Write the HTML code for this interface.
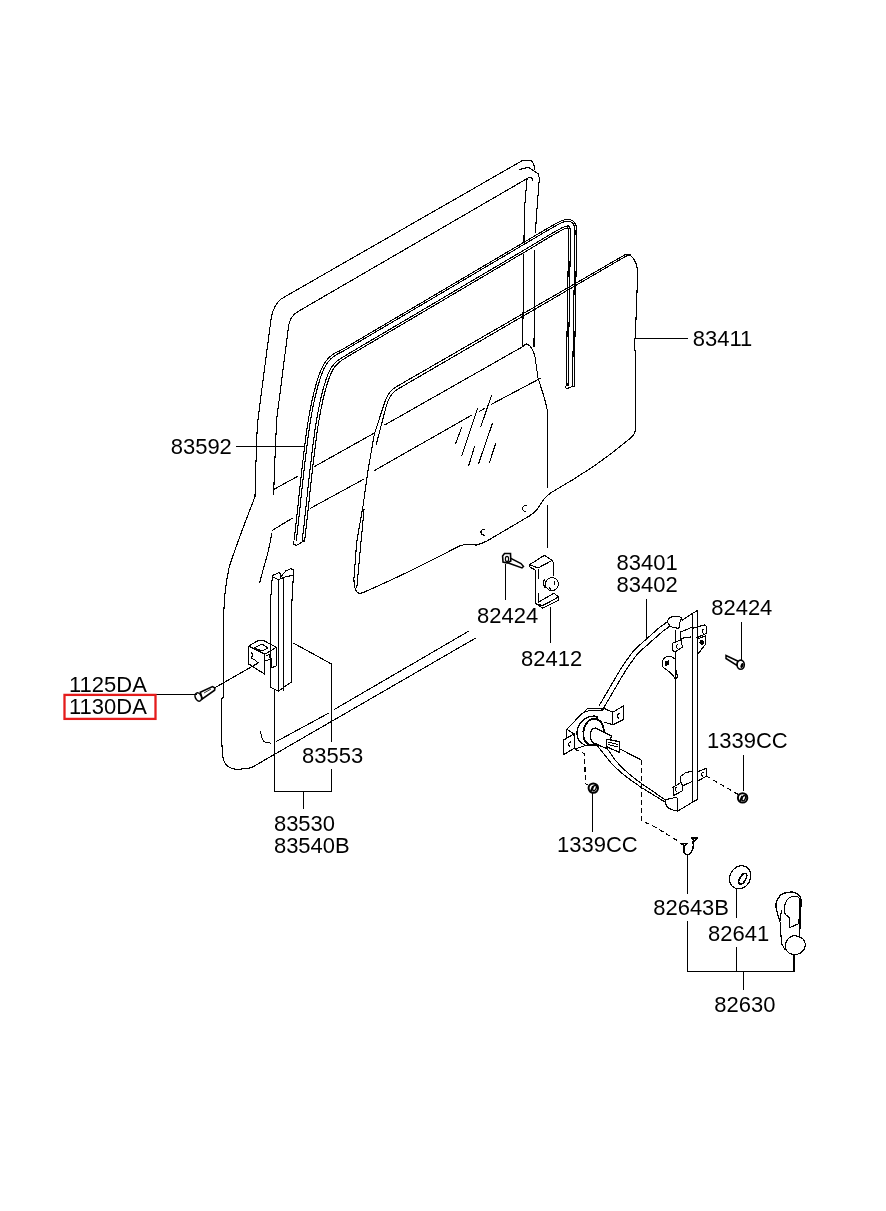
<!DOCTYPE html>
<html><head><meta charset="utf-8"><style>
html,body{margin:0;padding:0;background:#fff;}
svg{display:block;will-change:transform;}
text{font-family:"Liberation Sans",sans-serif;font-size:22px;fill:#000;}
.l{fill:none;stroke:#000;stroke-width:1.1;shape-rendering:crispEdges;}
</style></head><body>
<svg width="886" height="1211" viewBox="0 0 886 1211">
<rect width="886" height="1211" fill="#fff"/>
<g id="door" class="l">
<!-- outer frame outer line -->
<path d="M500,173.4 L523,160.2 L530.8,160.2 C533,162 534.5,166 534.5,169.6"/>
<path d="M500,173.4 L283.7,297.4 C277,301 272,310 271,319.5 L260,403.2 L257.3,425 L255.7,470 L255,496.6 C248,515 236,545 229,568 C224,590 223.4,612 223.4,630 L223.4,697.6 L221.8,698.6 L221.8,740 C222,747 222.3,752 222.6,755 C223,765 230,770 239.4,769.2 C244,769 248,768.5 251.6,767.6 L475.6,638.1"/>
<path d="M276,741.7 L329.3,712.8 M333.9,709.7 L469,631"/>
<path d="M260.7,731 C261,737 262,741.7 266,742.5 L271.4,743.2"/>
<!-- second top line + rear vertical -->
<path d="M519.3,169.6 L528.4,167.3 L538.6,174 L539.3,179 L536.4,216.5 L535.4,232.8 M534.8,250 L534,347"/>
<!-- inner frame line -->
<path d="M533.2,181.5 C532.5,178.5 531,177 529.1,177.4 L297.9,311.6 C293,314.5 289,320 288.4,327.4 L276.6,420 L274.4,471.8 L273.6,495.4"/>
<path d="M527,179 L524.4,210 L522.6,346.7"/>
<path d="M271.6,533 C270.5,548 263,568 259.6,583.4"/>
<!-- sill lines / quarter panel -->
<path d="M273.6,489.5 L297.7,476.3 M314,466.8 L375.3,432.5 M384.5,425.1 L522.6,346.7 C524,345 525.5,344 526.7,344 C530,345 533.5,350 535,357 L538,377.8 C541,388 545,398 547.5,411 L547.7,488 M547.5,505 L547.5,548.2"/>
<path d="M272.3,530.3 L292.7,518 M310,508.5 L364.1,479 M374.3,470.6 L471.8,415.1 M479.2,411.4 L484.6,408.5 M491.2,404.4 L541,378"/>
</g>
<defs><path id="ch" d="M299.6,541 C303,511 307,470 311,440 C314,415 320,385 327,370 C331,362 336,358 342,355 L530,244 C560,226 565,223 569,224 C572,225 572.5,228 572.5,234 L570,386.5"/></defs>
<g id="channel">
<use href="#ch" fill="none" stroke="#fff" stroke-width="10"/>
<g class="l">
<path d="M294.17,540.39 L294.53,537.25 L294.89,534.04 L295.25,530.76 L295.61,527.42 L295.98,524.03 L296.35,520.58 L296.73,517.08 L297.11,513.54 L297.49,509.97 L297.88,506.36 L298.27,502.73 L298.66,499.08 L299.05,495.42 L299.45,491.75 L299.85,488.07 L300.25,484.40 L300.65,480.73 L301.05,477.08 L301.46,473.45 L301.87,469.84 L302.28,466.25 L302.69,462.71 L303.10,459.20 L303.51,455.73 L303.93,452.32 L304.34,448.96 L304.76,445.67 L305.17,442.44 L305.58,439.31 L305.90,436.71 L306.25,434.04 L306.62,431.35 L307.00,428.63 L307.41,425.90 L307.84,423.16 L308.28,420.41 L308.74,417.67 L309.23,414.92 L309.72,412.18 L310.24,409.45 L310.77,406.74 L311.32,404.06 L311.88,401.40 L312.46,398.77 L313.05,396.17 L313.66,393.62 L314.28,391.11 L314.92,388.65 L315.57,386.25 L316.23,383.90 L316.91,381.62 L317.60,379.40 L318.30,377.25 L319.02,375.18 L319.76,373.18 L320.50,371.27 L321.27,369.44 L322.06,367.68 L322.59,366.64 L323.07,365.75 L323.56,364.89 L324.06,364.05 L324.57,363.24 L325.10,362.45 L325.64,361.68 L326.18,360.94 L326.74,360.22 L327.31,359.52 L327.89,358.85 L328.48,358.20 L329.07,357.57 L329.69,356.97 L330.32,356.40 L330.96,355.85 L331.60,355.32 L332.25,354.81 L332.93,354.36 L333.61,353.92 L334.30,353.50 L334.99,353.11 L335.68,352.73 L336.38,352.37 L337.08,352.02 L337.78,351.69 L338.48,351.37 L339.18,351.07 L339.65,350.88 L341.33,349.93 L343.08,348.95 L344.83,347.97 L346.57,346.99 L348.30,345.97 L350.02,344.95 L351.75,343.93 L353.47,342.91 L355.20,341.89 L356.92,340.88 L358.65,339.86 L360.37,338.84 L362.10,337.82 L363.82,336.80 L365.55,335.78 L367.27,334.77 L368.99,333.75 L370.72,332.73 L372.44,331.71 L374.17,330.69 L375.89,329.67 L377.62,328.66 L379.34,327.64 L381.07,326.62 L382.79,325.60 L384.52,324.58 L386.24,323.56 L387.97,322.55 L389.69,321.53 L391.42,320.51 L393.14,319.49 L394.87,318.47 L396.59,317.45 L398.32,316.44 L400.04,315.42 L401.77,314.40 L403.49,313.38 L405.21,312.36 L406.94,311.34 L408.66,310.33 L410.39,309.31 L412.11,308.29 L413.84,307.27 L415.56,306.25 L417.29,305.23 L419.01,304.22 L420.74,303.20 L422.46,302.18 L424.19,301.16 L425.91,300.14 L427.64,299.12 L429.36,298.11 L431.09,297.09 L432.81,296.07 L434.54,295.05 L436.26,294.03 L437.99,293.01 L439.71,292.00 L441.43,290.98 L443.16,289.96 L444.88,288.94 L446.61,287.92 L448.33,286.90 L450.06,285.89 L451.78,284.87 L453.51,283.85 L455.23,282.83 L456.96,281.81 L458.68,280.79 L460.41,279.78 L462.13,278.76 L463.86,277.74 L465.58,276.72 L467.31,275.70 L469.03,274.68 L470.76,273.67 L472.48,272.65 L474.21,271.63 L475.93,270.61 L477.66,269.59 L479.38,268.57 L481.10,267.55 L482.83,266.54 L484.55,265.52 L486.28,264.50 L488.00,263.48 L489.73,262.46 L491.45,261.44 L493.18,260.43 L494.90,259.41 L496.63,258.39 L498.35,257.37 L500.08,256.35 L501.80,255.33 L503.53,254.32 L505.25,253.30 L506.98,252.28 L508.70,251.26 L510.43,250.24 L512.15,249.22 L513.88,248.21 L515.60,247.19 L517.32,246.17 L519.05,245.15 L520.77,244.13 L522.50,243.12 L524.23,242.11 L525.96,241.10 L527.68,240.11 L530.69,238.31 L533.54,236.61 L536.22,235.02 L538.75,233.52 L541.12,232.12 L543.34,230.81 L545.43,229.59 L547.37,228.46 L549.20,227.41 L550.89,226.44 L552.48,225.55 L553.95,224.72 L555.32,223.96 L556.60,223.28 L557.79,222.65 L558.90,222.09 L559.94,221.59 L560.93,221.14 L561.86,220.75 L562.75,220.40 L563.61,220.11 L564.45,219.86 L565.28,219.66 L566.11,219.52 L566.93,219.43 L567.75,219.41 L568.55,219.45 L569.33,219.56 L570.18,219.74 L570.95,220.01 L571.50,220.25 L572.04,220.53 L572.56,220.86 L573.06,221.22 L573.54,221.62 L573.98,222.05 L574.38,222.52 L574.75,223.00 L575.07,223.50 L575.36,224.01 L575.61,224.52 L575.83,225.04 L576.02,225.56 L576.16,226.09 L576.28,226.62 L576.38,227.14 L576.46,227.67 L576.53,228.20 L576.58,228.74 L576.62,229.28 L576.65,229.83 L576.67,230.39 L576.69,230.96 L576.69,231.54 L576.69,232.13 L576.69,232.74 L576.68,233.36 L576.66,234.05 L576.63,236.07 L576.59,238.08 L576.56,240.09 L576.53,242.09 L576.49,244.10 L576.46,246.11 L576.43,248.11 L576.40,250.12 L576.36,252.13 L576.33,254.13 L576.30,256.14 L576.26,258.15 L576.23,260.15 L576.20,262.16 L576.17,264.17 L576.13,266.17 L576.10,268.18 L576.07,270.19 L576.03,272.19 L576.00,274.20 L575.97,276.21 L575.94,278.21 L575.90,280.22 L575.87,282.23 L575.84,284.23 L575.80,286.24 L575.77,288.25 L575.74,290.25 L575.71,292.26 L575.67,294.27 L575.64,296.27 L575.61,298.28 L575.57,300.29 L575.54,302.29 L575.51,304.30 L575.48,306.31 L575.44,308.31 L575.41,310.32 L575.38,312.32 L575.34,314.33 L575.31,316.34 L575.28,318.34 L575.24,320.35 L575.21,322.36 L575.18,324.36 L575.15,326.37 L575.11,328.38 L575.08,330.38 L575.05,332.39 L575.01,334.40 L574.98,336.40 L574.95,338.41 L574.92,340.42 L574.88,342.42 L574.85,344.43 L574.82,346.44 L574.78,348.44 L574.75,350.45 L574.72,352.46 L574.69,354.46 L574.65,356.47 L574.62,358.48 L574.59,360.48 L574.55,362.49 L574.52,364.50 L574.49,366.50 L574.46,368.51 L574.42,370.52 L574.39,372.52 L574.36,374.53 L574.32,376.54 L574.29,378.54 L574.26,380.55 L574.23,382.56 L574.19,384.56 L574.16,386.57"/>
<path d="M296.37,540.64 L296.72,537.50 L297.08,534.28 L297.44,531.01 L297.80,527.66 L298.17,524.26 L298.55,520.81 L298.92,517.31 L299.30,513.78 L299.68,510.20 L300.07,506.60 L300.46,502.97 L300.85,499.32 L301.24,495.66 L301.64,491.99 L302.04,488.31 L302.44,484.64 L302.84,480.98 L303.25,477.33 L303.65,473.69 L304.06,470.08 L304.47,466.51 L304.88,462.96 L305.29,459.46 L305.70,456.00 L306.12,452.59 L306.53,449.24 L306.94,445.95 L307.36,442.72 L307.77,439.59 L308.09,436.99 L308.44,434.33 L308.80,431.65 L309.19,428.95 L309.59,426.24 L310.01,423.51 L310.46,420.77 L310.92,418.04 L311.40,415.31 L311.89,412.58 L312.40,409.87 L312.93,407.18 L313.48,404.50 L314.04,401.86 L314.61,399.25 L315.20,396.67 L315.80,394.14 L316.42,391.65 L317.05,389.22 L317.69,386.83 L318.35,384.51 L319.02,382.26 L319.70,380.07 L320.39,377.95 L321.10,375.92 L321.82,373.96 L322.55,372.09 L323.29,370.31 L324.05,368.61 L324.54,367.67 L325.00,366.82 L325.46,366.00 L325.94,365.21 L326.43,364.43 L326.92,363.69 L327.43,362.97 L327.94,362.27 L328.47,361.59 L329.00,360.94 L329.54,360.31 L330.09,359.70 L330.65,359.11 L331.23,358.55 L331.81,358.01 L332.40,357.49 L333.00,356.99 L333.60,356.51 L334.23,356.06 L334.86,355.64 L335.50,355.23 L336.14,354.84 L336.78,354.46 L337.43,354.10 L338.09,353.75 L338.74,353.42 L339.41,353.09 L340.07,352.78 L340.60,352.54 L342.30,351.57 L344.04,350.57 L345.77,349.57 L347.51,348.58 L349.24,347.56 L350.96,346.54 L352.69,345.52 L354.41,344.50 L356.14,343.49 L357.86,342.47 L359.59,341.45 L361.31,340.43 L363.04,339.41 L364.76,338.39 L366.48,337.38 L368.21,336.36 L369.93,335.34 L371.66,334.32 L373.38,333.30 L375.11,332.28 L376.83,331.27 L378.56,330.25 L380.28,329.23 L382.01,328.21 L383.73,327.19 L385.46,326.17 L387.18,325.16 L388.91,324.14 L390.63,323.12 L392.36,322.10 L394.08,321.08 L395.81,320.06 L397.53,319.05 L399.26,318.03 L400.98,317.01 L402.70,315.99 L404.43,314.97 L406.15,313.95 L407.88,312.94 L409.60,311.92 L411.33,310.90 L413.05,309.88 L414.78,308.86 L416.50,307.84 L418.23,306.83 L419.95,305.81 L421.68,304.79 L423.40,303.77 L425.13,302.75 L426.85,301.73 L428.58,300.72 L430.30,299.70 L432.03,298.68 L433.75,297.66 L435.48,296.64 L437.20,295.62 L438.92,294.61 L440.65,293.59 L442.37,292.57 L444.10,291.55 L445.82,290.53 L447.55,289.51 L449.27,288.49 L451.00,287.48 L452.72,286.46 L454.45,285.44 L456.17,284.42 L457.90,283.40 L459.62,282.38 L461.35,281.37 L463.07,280.35 L464.80,279.33 L466.52,278.31 L468.25,277.29 L469.97,276.27 L471.70,275.26 L473.42,274.24 L475.15,273.22 L476.87,272.20 L478.59,271.18 L480.32,270.16 L482.04,269.15 L483.77,268.13 L485.49,267.11 L487.22,266.09 L488.94,265.07 L490.67,264.05 L492.39,263.04 L494.12,262.02 L495.84,261.00 L497.57,259.98 L499.29,258.96 L501.02,257.94 L502.74,256.93 L504.47,255.91 L506.19,254.89 L507.92,253.87 L509.64,252.85 L511.37,251.83 L513.09,250.82 L514.81,249.80 L516.54,248.78 L518.26,247.76 L519.99,246.74 L521.71,245.72 L523.44,244.71 L525.17,243.70 L526.90,242.69 L528.62,241.68 L531.63,239.88 L534.47,238.18 L537.16,236.58 L539.68,235.08 L542.04,233.67 L544.26,232.36 L546.34,231.14 L548.28,230.01 L550.10,228.96 L551.79,227.99 L553.36,227.10 L554.82,226.28 L556.17,225.53 L557.43,224.85 L558.60,224.24 L559.69,223.69 L560.70,223.21 L561.64,222.78 L562.53,222.40 L563.36,222.08 L564.15,221.81 L564.91,221.58 L565.64,221.41 L566.35,221.29 L567.05,221.21 L567.73,221.20 L568.39,221.23 L569.03,221.31 L569.70,221.46 L570.29,221.67 L570.73,221.86 L571.16,222.09 L571.57,222.34 L571.96,222.63 L572.33,222.94 L572.68,223.28 L573.00,223.64 L573.29,224.02 L573.55,224.42 L573.78,224.83 L573.98,225.26 L574.16,225.69 L574.32,226.13 L574.45,226.58 L574.56,227.03 L574.65,227.50 L574.73,227.97 L574.80,228.45 L574.85,228.95 L574.89,229.45 L574.93,229.97 L574.96,230.50 L574.97,231.04 L574.99,231.60 L574.99,232.17 L574.99,232.77 L574.99,233.37 L574.98,234.03 L574.95,236.05 L574.91,238.05 L574.88,240.06 L574.85,242.07 L574.82,244.07 L574.78,246.08 L574.75,248.09 L574.72,250.09 L574.68,252.10 L574.65,254.11 L574.62,256.11 L574.58,258.12 L574.55,260.13 L574.52,262.13 L574.49,264.14 L574.45,266.15 L574.42,268.15 L574.39,270.16 L574.35,272.17 L574.32,274.17 L574.29,276.18 L574.26,278.19 L574.22,280.19 L574.19,282.20 L574.16,284.21 L574.12,286.21 L574.09,288.22 L574.06,290.22 L574.03,292.23 L573.99,294.24 L573.96,296.24 L573.93,298.25 L573.89,300.26 L573.86,302.26 L573.83,304.27 L573.80,306.28 L573.76,308.28 L573.73,310.29 L573.70,312.30 L573.66,314.30 L573.63,316.31 L573.60,318.32 L573.57,320.32 L573.53,322.33 L573.50,324.34 L573.47,326.34 L573.43,328.35 L573.40,330.36 L573.37,332.36 L573.33,334.37 L573.30,336.38 L573.27,338.38 L573.24,340.39 L573.20,342.40 L573.17,344.40 L573.14,346.41 L573.10,348.42 L573.07,350.42 L573.04,352.43 L573.01,354.44 L572.97,356.44 L572.94,358.45 L572.91,360.46 L572.87,362.46 L572.84,364.47 L572.81,366.47 L572.78,368.48 L572.74,370.49 L572.71,372.49 L572.68,374.50 L572.64,376.51 L572.61,378.51 L572.58,380.52 L572.55,382.53 L572.51,384.53 L572.48,386.54"/>
<path d="M302.21,541.29 L302.56,538.15 L302.92,534.93 L303.28,531.65 L303.65,528.30 L304.02,524.90 L304.39,521.44 L304.77,517.94 L305.15,514.40 L305.53,510.83 L305.92,507.22 L306.31,503.59 L306.70,499.95 L307.09,496.29 L307.49,492.62 L307.88,488.95 L308.28,485.28 L308.69,481.62 L309.09,477.98 L309.50,474.35 L309.90,470.75 L310.31,467.18 L310.72,463.64 L311.13,460.15 L311.54,456.70 L311.95,453.30 L312.36,449.96 L312.78,446.69 L313.19,443.48 L313.60,440.33 L313.93,437.73 L314.26,435.11 L314.62,432.47 L315.00,429.80 L315.40,427.12 L315.82,424.43 L316.26,421.73 L316.71,419.03 L317.18,416.34 L317.67,413.65 L318.18,410.98 L318.70,408.33 L319.23,405.70 L319.78,403.10 L320.35,400.54 L320.93,398.01 L321.52,395.53 L322.12,393.10 L322.74,390.72 L323.36,388.40 L324.00,386.15 L324.65,383.97 L325.30,381.86 L325.97,379.83 L326.64,377.89 L327.32,376.04 L328.00,374.29 L328.69,372.65 L329.38,371.12 L329.74,370.41 L330.14,369.67 L330.54,368.97 L330.95,368.28 L331.36,367.63 L331.78,367.00 L332.20,366.39 L332.63,365.81 L333.07,365.25 L333.51,364.71 L333.95,364.20 L334.40,363.70 L334.86,363.22 L335.32,362.75 L335.78,362.29 L336.25,361.86 L336.73,361.44 L337.22,361.03 L337.70,360.62 L338.19,360.22 L338.69,359.83 L339.20,359.45 L339.71,359.08 L340.24,358.72 L340.77,358.37 L341.32,358.02 L341.88,357.69 L342.44,357.36 L343.13,356.98 L344.87,355.93 L346.59,354.89 L348.30,353.86 L350.02,352.82 L351.74,351.80 L353.47,350.78 L355.19,349.77 L356.92,348.75 L358.64,347.73 L360.37,346.71 L362.09,345.69 L363.82,344.67 L365.54,343.66 L367.27,342.64 L368.99,341.62 L370.71,340.60 L372.44,339.58 L374.16,338.56 L375.89,337.55 L377.61,336.53 L379.34,335.51 L381.06,334.49 L382.79,333.47 L384.51,332.45 L386.24,331.44 L387.96,330.42 L389.69,329.40 L391.41,328.38 L393.14,327.36 L394.86,326.34 L396.59,325.33 L398.31,324.31 L400.04,323.29 L401.76,322.27 L403.49,321.25 L405.21,320.23 L406.94,319.22 L408.66,318.20 L410.38,317.18 L412.11,316.16 L413.83,315.14 L415.56,314.12 L417.28,313.11 L419.01,312.09 L420.73,311.07 L422.46,310.05 L424.18,309.03 L425.91,308.01 L427.63,307.00 L429.36,305.98 L431.08,304.96 L432.81,303.94 L434.53,302.92 L436.26,301.90 L437.98,300.89 L439.71,299.87 L441.43,298.85 L443.16,297.83 L444.88,296.81 L446.60,295.79 L448.33,294.78 L450.05,293.76 L451.78,292.74 L453.50,291.72 L455.23,290.70 L456.95,289.68 L458.68,288.67 L460.40,287.65 L462.13,286.63 L463.85,285.61 L465.58,284.59 L467.30,283.57 L469.03,282.55 L470.75,281.54 L472.48,280.52 L474.20,279.50 L475.93,278.48 L477.65,277.46 L479.38,276.44 L481.10,275.43 L482.82,274.41 L484.55,273.39 L486.27,272.37 L488.00,271.35 L489.72,270.33 L491.45,269.32 L493.17,268.30 L494.90,267.28 L496.62,266.26 L498.35,265.24 L500.07,264.22 L501.80,263.21 L503.52,262.19 L505.25,261.17 L506.97,260.15 L508.70,259.13 L510.42,258.11 L512.15,257.10 L513.87,256.08 L515.60,255.06 L517.32,254.04 L519.05,253.02 L520.77,252.00 L522.49,250.99 L524.22,249.97 L525.94,248.95 L527.66,247.92 L529.39,246.90 L531.12,245.87 L534.13,244.06 L536.97,242.35 L539.65,240.74 L542.16,239.23 L544.51,237.82 L546.72,236.51 L548.78,235.28 L550.71,234.14 L552.50,233.09 L554.16,232.13 L555.70,231.24 L557.13,230.44 L558.45,229.71 L559.67,229.06 L560.78,228.48 L561.80,227.96 L562.72,227.52 L563.56,227.13 L564.32,226.81 L565.00,226.55 L565.61,226.34 L566.14,226.18 L566.61,226.07 L567.01,226.00 L567.37,225.96 L567.68,225.96 L567.96,225.97 L568.22,226.01 L568.43,226.05 L568.51,226.08 L568.67,226.15 L568.80,226.22 L568.92,226.30 L569.03,226.37 L569.13,226.46 L569.22,226.55 L569.31,226.65 L569.39,226.76 L569.48,226.89 L569.56,227.04 L569.64,227.21 L569.73,227.41 L569.81,227.63 L569.89,227.87 L569.97,228.15 L570.04,228.44 L570.11,228.77 L570.18,229.12 L570.24,229.50 L570.29,229.90 L570.33,230.33 L570.37,230.78 L570.41,231.25 L570.43,231.76 L570.46,232.28 L570.48,232.83 L570.49,233.40 L570.50,233.98 L570.47,235.97 L570.43,237.98 L570.40,239.99 L570.37,241.99 L570.34,244.00 L570.30,246.01 L570.27,248.01 L570.24,250.02 L570.20,252.03 L570.17,254.03 L570.14,256.04 L570.11,258.05 L570.07,260.05 L570.04,262.06 L570.01,264.07 L569.97,266.07 L569.94,268.08 L569.91,270.09 L569.88,272.09 L569.84,274.10 L569.81,276.11 L569.78,278.11 L569.74,280.12 L569.71,282.13 L569.68,284.13 L569.65,286.14 L569.61,288.14 L569.58,290.15 L569.55,292.16 L569.51,294.16 L569.48,296.17 L569.45,298.18 L569.41,300.18 L569.38,302.19 L569.35,304.20 L569.32,306.20 L569.28,308.21 L569.25,310.22 L569.22,312.22 L569.18,314.23 L569.15,316.24 L569.12,318.24 L569.09,320.25 L569.05,322.26 L569.02,324.26 L568.99,326.27 L568.95,328.28 L568.92,330.28 L568.89,332.29 L568.86,334.30 L568.82,336.30 L568.79,338.31 L568.76,340.32 L568.72,342.32 L568.69,344.33 L568.66,346.34 L568.63,348.34 L568.59,350.35 L568.56,352.36 L568.53,354.36 L568.49,356.37 L568.46,358.38 L568.43,360.38 L568.40,362.39 L568.36,364.39 L568.33,366.40 L568.30,368.41 L568.26,370.41 L568.23,372.42 L568.20,374.43 L568.16,376.43 L568.13,378.44 L568.10,380.45 L568.07,382.45 L568.03,384.46 L568.00,386.47"/>
<path d="M304.61,541.56 L304.96,538.42 L305.32,535.20 L305.68,531.91 L306.05,528.56 L306.42,525.16 L306.79,521.70 L307.17,518.20 L307.55,514.66 L307.93,511.08 L308.32,507.48 L308.71,503.85 L309.10,500.21 L309.49,496.55 L309.89,492.88 L310.28,489.21 L310.68,485.54 L311.09,481.89 L311.49,478.24 L311.90,474.62 L312.30,471.02 L312.71,467.45 L313.12,463.92 L313.53,460.43 L313.94,456.99 L314.35,453.60 L314.76,450.26 L315.17,446.99 L315.58,443.79 L316.00,440.64 L316.32,438.03 L316.66,435.43 L317.02,432.80 L317.39,430.15 L317.79,427.48 L318.21,424.81 L318.64,422.12 L319.09,419.44 L319.56,416.76 L320.05,414.09 L320.55,411.44 L321.07,408.80 L321.60,406.19 L322.14,403.61 L322.70,401.06 L323.28,398.56 L323.86,396.10 L324.46,393.69 L325.07,391.34 L325.69,389.04 L326.32,386.82 L326.96,384.67 L327.60,382.59 L328.25,380.60 L328.91,378.70 L329.58,376.90 L330.24,375.20 L330.90,373.61 L331.56,372.15 L331.88,371.53 L332.25,370.84 L332.63,370.18 L333.01,369.55 L333.39,368.94 L333.78,368.36 L334.17,367.80 L334.56,367.27 L334.96,366.76 L335.36,366.26 L335.76,365.79 L336.17,365.34 L336.59,364.90 L337.00,364.47 L337.41,364.05 L337.84,363.65 L338.26,363.26 L338.70,362.88 L339.12,362.48 L339.56,362.10 L340.00,361.71 L340.45,361.34 L340.92,360.98 L341.39,360.62 L341.88,360.26 L342.38,359.92 L342.89,359.57 L343.41,359.23 L344.16,358.80 L345.93,357.72 L347.64,356.67 L349.34,355.62 L351.05,354.56 L352.77,353.55 L354.50,352.53 L356.22,351.51 L357.95,350.49 L359.67,349.47 L361.40,348.45 L363.12,347.44 L364.84,346.42 L366.57,345.40 L368.29,344.38 L370.02,343.36 L371.74,342.34 L373.47,341.33 L375.19,340.31 L376.92,339.29 L378.64,338.27 L380.37,337.25 L382.09,336.23 L383.82,335.22 L385.54,334.20 L387.27,333.18 L388.99,332.16 L390.72,331.14 L392.44,330.12 L394.17,329.11 L395.89,328.09 L397.62,327.07 L399.34,326.05 L401.07,325.03 L402.79,324.01 L404.51,323.00 L406.24,321.98 L407.96,320.96 L409.69,319.94 L411.41,318.92 L413.14,317.90 L414.86,316.89 L416.59,315.87 L418.31,314.85 L420.04,313.83 L421.76,312.81 L423.49,311.79 L425.21,310.77 L426.94,309.76 L428.66,308.74 L430.39,307.72 L432.11,306.70 L433.84,305.68 L435.56,304.66 L437.29,303.65 L439.01,302.63 L440.73,301.61 L442.46,300.59 L444.18,299.57 L445.91,298.55 L447.63,297.54 L449.36,296.52 L451.08,295.50 L452.81,294.48 L454.53,293.46 L456.26,292.44 L457.98,291.43 L459.71,290.41 L461.43,289.39 L463.16,288.37 L464.88,287.35 L466.61,286.33 L468.33,285.32 L470.06,284.30 L471.78,283.28 L473.51,282.26 L475.23,281.24 L476.95,280.22 L478.68,279.21 L480.40,278.19 L482.13,277.17 L483.85,276.15 L485.58,275.13 L487.30,274.11 L489.03,273.10 L490.75,272.08 L492.48,271.06 L494.20,270.04 L495.93,269.02 L497.65,268.00 L499.38,266.99 L501.10,265.97 L502.83,264.95 L504.55,263.93 L506.28,262.91 L508.00,261.89 L509.73,260.88 L511.45,259.86 L513.18,258.84 L514.90,257.82 L516.62,256.80 L518.35,255.78 L520.07,254.77 L521.80,253.75 L523.52,252.73 L525.25,251.71 L526.97,250.68 L528.69,249.66 L530.41,248.63 L532.14,247.59 L535.16,245.77 L538.00,244.06 L540.67,242.45 L543.18,240.94 L545.53,239.53 L547.73,238.21 L549.78,236.98 L551.70,235.84 L553.48,234.79 L555.14,233.83 L556.67,232.94 L558.08,232.15 L559.39,231.43 L560.58,230.78 L561.67,230.22 L562.66,229.72 L563.55,229.29 L564.35,228.92 L565.06,228.62 L565.67,228.38 L566.20,228.20 L566.65,228.07 L567.00,227.99 L567.29,227.94 L567.50,227.91 L567.65,227.91 L567.78,227.92 L567.89,227.93 L567.91,227.93 L567.78,227.90 L567.82,227.91 L567.84,227.92 L567.84,227.92 L567.82,227.91 L567.81,227.90 L567.80,227.89 L567.79,227.88 L567.79,227.88 L567.80,227.90 L567.83,227.95 L567.86,228.02 L567.90,228.12 L567.95,228.25 L568.02,228.41 L568.08,228.60 L568.15,228.83 L568.22,229.10 L568.28,229.39 L568.34,229.72 L568.39,230.08 L568.44,230.47 L568.49,230.89 L568.53,231.34 L568.56,231.82 L568.59,232.32 L568.62,232.86 L568.64,233.42 L568.66,233.95 L568.63,235.94 L568.59,237.95 L568.56,239.96 L568.53,241.96 L568.50,243.97 L568.46,245.98 L568.43,247.98 L568.40,249.99 L568.36,252.00 L568.33,254.00 L568.30,256.01 L568.27,258.02 L568.23,260.02 L568.20,262.03 L568.17,264.04 L568.13,266.04 L568.10,268.05 L568.07,270.06 L568.04,272.06 L568.00,274.07 L567.97,276.08 L567.94,278.08 L567.90,280.09 L567.87,282.09 L567.84,284.10 L567.81,286.11 L567.77,288.11 L567.74,290.12 L567.71,292.13 L567.67,294.13 L567.64,296.14 L567.61,298.15 L567.57,300.15 L567.54,302.16 L567.51,304.17 L567.48,306.17 L567.44,308.18 L567.41,310.19 L567.38,312.19 L567.34,314.20 L567.31,316.21 L567.28,318.21 L567.25,320.22 L567.21,322.23 L567.18,324.23 L567.15,326.24 L567.11,328.25 L567.08,330.25 L567.05,332.26 L567.02,334.27 L566.98,336.27 L566.95,338.28 L566.92,340.29 L566.88,342.29 L566.85,344.30 L566.82,346.31 L566.79,348.31 L566.75,350.32 L566.72,352.33 L566.69,354.33 L566.65,356.34 L566.62,358.34 L566.59,360.35 L566.56,362.36 L566.52,364.36 L566.49,366.37 L566.46,368.38 L566.42,370.38 L566.39,372.39 L566.36,374.40 L566.32,376.40 L566.29,378.41 L566.26,380.42 L566.23,382.42 L566.19,384.43 L566.16,386.44"/>
</g>
</g>
<g class="l">
<path d="M293.5,541 L293.2,544.4 L296.8,545.3 L301.3,542.6 L305.5,539.5"/>
<path d="M565.3,386 L566.4,388.7 L574.5,385.8 L574.8,383"/>
</g>
<g id="glass" class="l">
<path d="M626,254.2 L395.7,387.1 C391,390 388,393 384.5,402.8 L374.3,434.4 L367.8,471.5 L363.2,505 L356.7,542 L353.9,579.2 C354,588 355.5,592 358.6,593.1 C361,593.5 362.5,593 364.1,592.2 C385,583 420,567 458.5,546.4 C462,545 466,544 469.9,544.2 C472,544.5 474,545 476.1,545.1 C479,544.5 483,543 487.3,540.8 L529.5,515.9 C533,513.5 535,512 537,509.7 C541,504 543,499 546.9,496.1 C549,494 551,492.5 555,490.3 C575,479 600,464 630.2,438.4 C633,436 635.3,433 635.3,429.8 L635.3,351 L634.4,350.6 L634.4,340.7 L635.3,337.7 L637.4,281.3 L637.4,270 C637,262 632,254 626,254.2"/>
<path d="M631,254.5 L627,255.6 L396.6,389.8 C392,392.5 389,397 386.4,405.6 L376.2,444.6"/>
<path d="M364.1,508.6 L356.7,588.5"/>
<path d="M527,506 A3,3 0 1 0 526,511.5"/>
<path d="M485.5,529.5 A3,3 0 1 0 484.5,535"/>
<path d="M491.6,395.3 L480.5,427.5 M477.6,408.5 L461.5,456.4 M461.6,427.5 L455.3,444.4 M474.7,446 L468.5,466.3 M492.4,423.4 L478.4,464.2 M495.7,443.2 L489.5,462.6"/>
</g>
<g id="rail" class="l">
<path d="M272.4,575.6 L279.9,572.1 L280.5,577.3 L285.7,571 L290.9,568.7 L293.2,569.8 L293.4,575 L291.4,611 L291.4,682 L278.2,691.2 L270.6,687.2 L270.6,600 Z"/>
<path d="M272.4,577 L278.7,579.7 L283.9,577.3 L293.4,575 M278.7,579.7 L278.2,691.2 M283.9,577.3 L283.4,690.6"/>
<!-- clip -->
<path d="M248.7,646.1 L257.3,641 L263.1,640.3 L276.4,647.3 L276.4,665.8 L271,668 L271,659 L264.9,661 M248.7,646.1 L248.7,664 L264.3,673.9 L264.9,654.2 L248.7,646.1 M264.9,654.2 L276.4,647.3"/>
<path d="M254,648 L262,644 L268,648 L262,651 Z M251,652 L253,655 L251,658 L255,660 L258,663 M266,656 L270,654 L270,658"/>
<path d="M212.6,689 L259,662.5"/>
</g>
<g id="bolt1">
<path d="M200.3,692.3 L212.5,686.6 L214.9,688 L214.6,690.2 L202.3,698.9 Z" fill="#fff" stroke="#000" stroke-width="1.6"/>
<ellipse cx="198.3" cy="697" rx="3" ry="4.3" transform="rotate(-25 198.3 697)" fill="#fff" stroke="#000" stroke-width="1.6"/>
<path d="M204,693 L211,689" stroke="#000" stroke-width="0.8"/>
</g>
<g id="screw82424c">
<path d="M508,557 L521,563.5 L523.5,566.5 L522,568 L507,562.5 Z" fill="#fff" stroke="#000" stroke-width="1.5"/>
<path d="M502.6,556 L504.5,553.5 L510.5,553.5 L510.8,561 L507,563 L503,562 Z" fill="#fff" stroke="#000" stroke-width="1.6"/>
<ellipse cx="507" cy="559" rx="1.6" ry="2.6" fill="none" stroke="#000" stroke-width="1.2"/>
</g>
<g id="clip82412" class="l" stroke-width="1.3">
<path d="M529.4,564.8 L544.4,555.3 L552.3,560.4 L538.1,567.9 Z M529.4,564.8 L529.4,566.7 L535.7,570.3 L535.7,603.5 L542.8,608.2 L558.6,600.3 L558.6,596.8 L553.9,593.2 L538.8,601.9 L538.8,593.2 M538.5,579.4 L538.5,569 M552.3,560.4 L553.5,563.6 L553.1,575.8 M536,604 L542.8,605.5 L558.6,597"/>
<circle cx="551.9" cy="584.1" r="6.5" fill="#fff"/>
<path d="M545,579 C543,581 543,585 545.5,588.5"/>
<path d="M554,581 L555,585 M549,587 L551,590"/>
</g>
<defs>
<path id="cab1" d="M668.5,624 L660.4,630 L637.4,650.4 C633,655 627,664 620.7,673.8 L601.3,707"/>

</defs>
<g id="mech" fill="none" stroke-linejoin="round">
<use href="#cab1" stroke="#fff" stroke-width="5"/>
<g class="l"><path d="M669.99,626.01 L668.37,627.21 L666.75,628.41 L665.13,629.61 L663.51,630.81 L661.98,631.94 L660.53,633.23 L658.99,634.59 L657.46,635.95 L655.93,637.31 L654.39,638.67 L652.86,640.03 L651.33,641.39 L649.79,642.75 L648.26,644.11 L646.73,645.47 L645.19,646.83 L643.66,648.19 L642.13,649.55 L640.59,650.91 L639.10,652.23 L638.78,652.58 L638.34,653.07 L637.88,653.60 L637.41,654.15 L636.92,654.74 L636.43,655.35 L635.92,655.99 L635.40,656.66 L634.88,657.35 L634.34,658.07 L633.79,658.81 L633.24,659.58 L632.67,660.37 L632.10,661.17 L631.52,662.00 L630.93,662.85 L630.34,663.71 L629.74,664.59 L629.13,665.49 L628.52,666.40 L627.90,667.33 L627.28,668.27 L626.65,669.22 L626.02,670.19 L625.38,671.16 L624.74,672.15 L624.10,673.14 L623.45,674.14 L622.84,675.10 L621.84,676.81 L620.82,678.56 L619.80,680.30 L618.77,682.05 L617.75,683.80 L616.73,685.55 L615.71,687.29 L614.69,689.04 L613.67,690.79 L612.65,692.53 L611.63,694.28 L610.61,696.03 L609.58,697.78 L608.56,699.52 L607.54,701.27 L606.52,703.02 L605.50,704.77 L604.48,706.51 L603.46,708.26"/><path d="M667.01,621.99 L665.39,623.19 L663.77,624.39 L662.15,625.59 L660.53,626.79 L658.82,628.06 L657.21,629.49 L655.67,630.85 L654.14,632.21 L652.61,633.57 L651.07,634.93 L649.54,636.29 L648.01,637.65 L646.47,639.01 L644.94,640.37 L643.41,641.73 L641.87,643.09 L640.34,644.45 L638.81,645.81 L637.27,647.17 L635.70,648.57 L635.10,649.20 L634.60,649.75 L634.09,650.33 L633.58,650.94 L633.05,651.57 L632.52,652.23 L631.98,652.91 L631.44,653.61 L630.88,654.34 L630.32,655.09 L629.76,655.86 L629.18,656.65 L628.60,657.46 L628.01,658.29 L627.42,659.14 L626.82,660.01 L626.21,660.89 L625.60,661.79 L624.98,662.70 L624.36,663.63 L623.74,664.56 L623.11,665.52 L622.47,666.48 L621.83,667.45 L621.19,668.44 L620.55,669.43 L619.90,670.43 L619.25,671.43 L618.56,672.50 L617.52,674.29 L616.50,676.03 L615.48,677.78 L614.46,679.53 L613.44,681.28 L612.42,683.02 L611.39,684.77 L610.37,686.52 L609.35,688.27 L608.33,690.01 L607.31,691.76 L606.29,693.51 L605.27,695.25 L604.25,697.00 L603.23,698.75 L602.20,700.50 L601.18,702.24 L600.16,703.99 L599.14,705.74"/></g>

</g>
<g id="mech2" class="l">
<!-- rail -->
<path d="M675.7,630.2 L675.7,786 M692.4,613.5 L692.4,802.3 M697.3,610.4 L697.3,799.6 M682,620.3 L692.4,613.5 L697.3,610.4 M677.7,798.2 L677.7,811.1 L692.4,802.3 L697.3,799.6"/>
<!-- pulley top -->
<path d="M667.5,620.8 C669,617.5 672,616.3 675.2,616.3 C679,616.3 681.5,617 681.5,618.5 L679.7,622.6 C679.5,625 679.5,627 678.8,628 C675.5,628.3 672.5,628 670,626 C668.5,624.5 667.5,622.5 667.5,620.8 Z" fill="#fff"/>
<!-- brackets upper -->
<path d="M672.5,643.3 L681,639.7 L682.4,647 L675.2,651.9 L672.5,650.6 Z" fill="#fff"/>
<path d="M678.5,644.5 A2,2 0 1 0 678,648.5"/>
<path d="M680.6,632 L692.4,627.1 M681,638.8 C684,637.5 687,637 690.6,637 M680.6,632 L681,639.7"/>
<path d="M692.4,628.4 L705,624.8 L706.4,626.2 L706.4,633.4 L696.4,637.9 L697.3,637.5"/>
<path d="M704.5,629.5 A2,2 0 1 0 704,633.5"/>
<path d="M697.8,638.8 L705,636.1 L705.5,644.2 L697.8,654.2"/>
<circle cx="701.8" cy="642.4" r="1.8" fill="#000"/>
<path d="M674.3,658.7 C672,656 668,655.5 665,657.5 C662,660 661.5,664 663,667 C666,670 671,672 673.5,676 L675.5,679 L677.5,677 L676,670"/>
<path d="M665,662 L668,661 L668,664.5 L665.5,665.5 Z" fill="#000"/>
<!-- brackets lower -->
<path d="M673,787.4 L681.8,782 L682.5,790.8 L673.7,795.5 Z" fill="#fff"/>
<path d="M677.5,787.5 A2,2 0 1 0 677,791.5"/>
<path d="M680.4,783 L680.4,776.6 L685.8,772.5 L692.4,771.2 M682,786 L692.4,781.5"/>
<path d="M697.4,771.8 L706.2,768.4 L706.8,775.9 L697.4,781.3"/>
<path d="M703.8,772.5 A2,2 0 1 0 703.3,776.5"/>
<!-- pulley block bottom -->
<path d="M665.5,799.6 L675,797.6 L677.7,798.2 L677.7,811.1 L672.3,809.8 C669,808.5 667,807.5 666.2,805.5 L665.5,801 Z" fill="#fff"/>
<!-- motor housing -->
<path d="M566.7,729.3 L587.5,708.5 L602,708.1 L604.2,709.4 M574.9,721.2 C578,716 582,712 590,710.5 L603,710"/>
<path d="M566.7,729.3 L574,733.8 L574.4,748.3 L563.6,754.6 L563.6,740.1 L574,733.8 M566.7,729.3 L566.7,737.5"/>
<path d="M571,742 A2.2,2.2 0 1 0 570.5,746.5"/>
<path d="M604.2,708.5 L612.8,712.2 L623.6,705.8 L623.6,719.4 L612.8,724.8 L604.2,722.1 M612.8,712.2 L612.8,724.8"/>
<path d="M619.8,713.8 A2.2,2.2 0 1 0 619.3,718.3"/>
<path d="M603.9,743.9 L615.1,760 C622,768 632,777 641.2,783.3 L664.9,799.6 M595.4,743.3 L610,761.7 C618,771 630,780 641.2,787.4 L665.5,802.3"/>
<path d="M597,716.5 C588,714.5 578,721 577,732 C576.5,738 580,743 585.5,745.5 L596,745 Z" fill="#fff" stroke-width="1.3"/>
<path d="M603,726 C601,720 596,718 591,719.5 C585,722.5 582.5,730 583.5,737 C584.5,741 586.5,743.5 589.5,744.8 L597,744.5 L604,731 Z" fill="#fff" stroke-width="1.8"/>
<path d="M595.4,728 C592,728 590.3,731 590.3,735.5 C590.3,740 592.5,743.3 594.8,743.3 L606.1,748.4 L611.8,736 L595.4,728 Z" fill="#fff" stroke-width="1.3"/>
<path d="M606.7,739.3 L619.7,741.6 L619.1,752.3 L606.7,746.7 Z" fill="#fff" stroke-width="1.3"/>
<path d="M608,742 L618,744.5 M608,744.5 L618,747"/>
<path d="M620,749 L640.5,759.6"/>
<path d="M587,745 L578,748 L574.9,749.2"/>
</g>
<g id="dashes" class="l" stroke-dasharray="5,3">
<path d="M574.9,749.2 L584.8,753.7 L585.2,783.7 L588.3,785"/>
<path d="M641.4,760.3 L641.4,820.6 L654.7,826.7 L678.7,841.5"/>
<path d="M706.2,775.9 L738.2,794.5"/>
</g>
<g id="nuts" fill="#fff" stroke="#000">
<circle cx="593.3" cy="788.1" r="4.7" stroke-width="2"/>
<ellipse cx="594.5" cy="788" rx="1.6" ry="2.8" transform="rotate(25 594.5 788)" stroke-width="1.4"/>
<path d="M590.8,791.5 L593,786" stroke-width="2"/>
<circle cx="742.6" cy="797.9" r="4.7" stroke-width="2"/>
<ellipse cx="743.8" cy="798.2" rx="1.6" ry="2.8" transform="rotate(25 743.8 798.2)" stroke-width="1.4"/>
<path d="M740,801.5 L742.3,796" stroke-width="2"/>
</g>
<g id="screw82424r">
<path d="M726,655.5 L737.6,661 L737,665.5 L726,658.5 Z" fill="#fff" stroke="#000" stroke-width="1.5"/>
<ellipse cx="740.7" cy="664.7" rx="3.6" ry="4.6" fill="#fff" stroke="#000" stroke-width="1.6"/>
<ellipse cx="742" cy="665.5" rx="1.4" ry="2.6" transform="rotate(20 742 665.5)" fill="#000"/>
</g>
<g id="bottomparts" class="l">
<path d="M684.2,853 L684.2,845 M684.2,853 C685,855 689,855.5 690.5,853 C693,850 694,846 692.9,842 L694.5,838.7" stroke-width="1.5"/>
<path d="M681.5,843.5 L686.5,843.5 L684.2,846 Z M692,838 L697,838 L694.5,841 Z" fill="#fff" stroke-width="1.5"/>
<ellipse cx="740.2" cy="877.3" rx="10.2" ry="12" transform="rotate(30 740.2 877.3)" stroke-width="1.2"/>
<ellipse cx="742.8" cy="878.8" rx="2.8" ry="6" transform="rotate(30 742.8 878.8)" stroke-width="1.5"/>
<path d="M775.8,906.7 C776,901 778,897 782,894 C785,892.5 788,892 792,892 C797,892.5 801,896 801.2,900 L800.7,908.8 L799.5,936" stroke-width="1.4"/>
<path d="M775.8,906.7 L777.8,914.9 L780.4,923 L781.4,943.3 L784.9,949.4 L792,952.4"/>
<path d="M781.5,910 L780,921 M784.5,907 C785,902 788,898 792,896.5 C796,895.5 800,897 800,900 L800,915 L798,924 L790,927.5 L789.5,918 L785,914 Z"/>
<path d="M799.5,937 C804,938 806,943 805,947 C804,952 798,955.5 793,954.5 C788,953.5 785.5,950 785.5,945.5 C785.5,940 790,935.5 795,935.5 Z" fill="#fff"/>
</g>
<g id="leaders" class="l">
<path d="M635.3,338.4 L687.7,338.4"/>
<path d="M236.2,446.5 L305,446.5"/>
<path d="M156.2,694.9 L197.2,694.9"/>
<path d="M274.4,690 L274.4,791.2 L331.5,791.2 L331.5,769.3 M331.5,741.5 L331.5,664 L292.7,642.7 M303.3,791.2 L303.3,808.6"/>
<path d="M505.2,563.5 L505.2,600.2"/>
<path d="M550.4,606.8 L550.4,642.7"/>
<path d="M646.3,599.1 L646.3,637.7"/>
<path d="M743.3,755.3 L743.3,790.5"/>
<path d="M741.4,622.1 L741.4,660.1"/>
<path d="M592.3,793.4 L592.3,831.5"/>
<path d="M687.3,854.8 L687.3,893.5 M687.3,921.3 L687.3,971.4 L794,971.4 L794,955.3 M736.3,888.7 L736.3,917.7 M736.3,947.2 L736.3,971.4 M743.4,971.4 L743.4,989.5"/>
</g>
<rect x="64.5" y="694.9" width="91" height="24" fill="none" stroke="#e41c1c" stroke-width="2.3"/>
<g id="labels">
<text transform="translate(692.7,345.6) scale(1,1.035)">83411</text>
<text transform="translate(170.7,454) scale(1,1.035)">83592</text>
<text transform="translate(616.6,570) scale(1,1.035)">83401</text>
<text transform="translate(616.6,591.5) scale(1,1.035)">83402</text>
<text transform="translate(711.2,614.5) scale(1,1.035)">82424</text>
<text transform="translate(477,623.2) scale(1,1.035)">82424</text>
<text transform="translate(521,665.5) scale(1,1.035)">82412</text>
<text transform="translate(69,692.2) scale(1,1.035)">1125DA</text>
<text transform="translate(69,714.2) scale(1,1.035)">1130DA</text>
<text transform="translate(302.1,762.5) scale(1,1.035)">83553</text>
<text transform="translate(707,747.7) scale(1,1.035)">1339CC</text>
<text transform="translate(273.9,830.5) scale(1,1.035)">83530</text>
<text transform="translate(273.9,852.6) scale(1,1.035)">83540B</text>
<text transform="translate(557,851.8) scale(1,1.035)">1339CC</text>
<text transform="translate(653.2,914.5) scale(1,1.035)">82643B</text>
<text transform="translate(708,940.9) scale(1,1.035)">82641</text>
<text transform="translate(714.3,1011.7) scale(1,1.035)">82630</text>
</g>
</svg>
</body></html>
